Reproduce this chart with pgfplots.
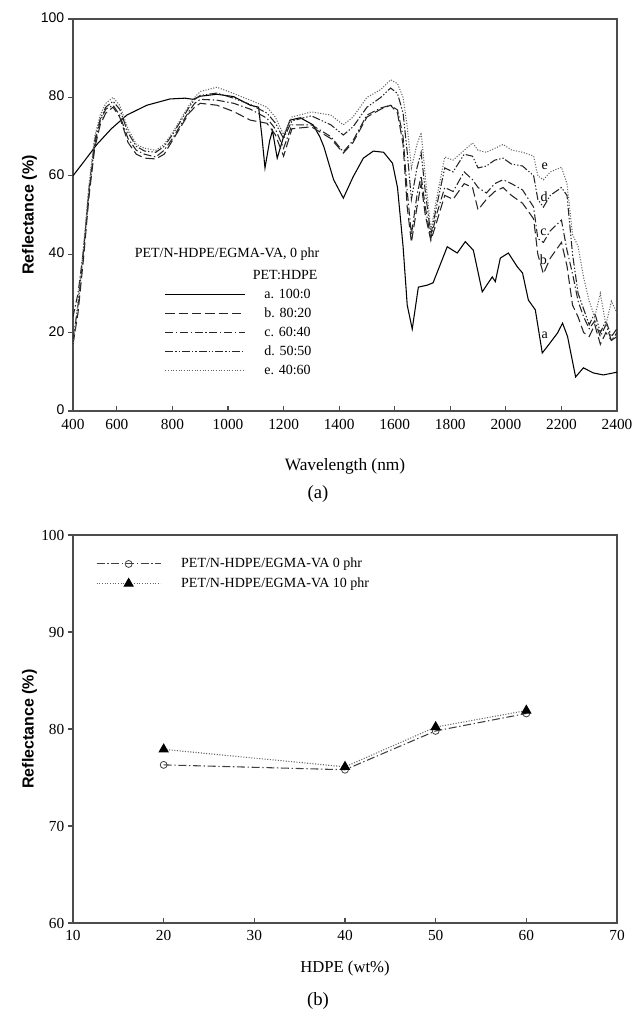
\documentclass[border=0pt]{standalone}
\usepackage{fontspec}
\setmainfont{Liberation Serif}
\newfontfamily\arialfont{Liberation Sans}
\usepackage{pgfplots}
\usepackage{pgfplotstable}
\pgfplotsset{compat=1.18}

% spectra b-e (PET:HDPE 80:20 ... 40:60)
\pgfplotstableread{
lam   b     c     d     e
442   17    24    18    16
460   25    30    27    28
480   39    41    41    42
500   55    56    57    58
520   67    68    69    70
540   73    74    74.5  75.5
560   76    77    77.5  78.5
586   77.5  78    79    80
610   75    75.5  77    78
640   68.5  69.5  71    72
670   65.5  66.5  67.5  68
700   64.5  65.5  66.3  67
740   64.3  64.8  66    66.5
770   65.5  66.5  67.5  68
800   69    69.5  70.5  71
830   72.5  73    74    74.5
860   76    76.5  77.5  78
880   77.5  78.5  79.5  80
900   78.5  79.5  80.5  81.5
960   78    79.3  81.1  82.6
1020  76.4  78.5  79.8  81
1080  74.2  77    78.2  79.3
1140  73.4  74.7  76    77.5
1170  70.5  72    73.5  75
1200  65    67    69.5  70.5
1230  72    73    74    75
1300  72.5  73    75.3  76.3
1370  69.5  70    73    75.5
1415  65.8  66.1  70.4  73
1450  68.5  69    72.5  75
1500  75    75.5  77.5  80
1550  77    77.3  80    82
1585  78    78    82.4  84.5
1610  76    76.8  81    83.5
1630  68    70    76    80
1645  52    56    66    72.5
1660  43    45    54    62
1680  52    55    62    68
1695  58    60    66    71
1710  50    52    56    60
1730  43.5  44    45    46
1750  48    50    52    54
1780  55    57    62    64.8
1810  54    56    61    64
1850  58    61    65.5  66.5
1880  57    59    65    68.4
1900  51.3  57    62    66.5
1930  54    55.6  62.5  66
1960  56    58    64    67
1990  57    59    64.5  68
2020  55    58    63    66.6
2060  53    56.4  62.5  66
2100  49    52    60    65
2115  40    44    54    60
2135  35    43    52    59
2160  39    46    55    61
2200  43    48.7  57    62.2
2220  37    41    55    58
2240  27    35    40    45
2260  24    28    30    42
2280  20    24    26    34
2300  19    21    22    28
2320  22    23    25    24
2340  17    19    20    30
2360  20    22    23    22
2380  18    18    19    28
2400  19    20    21    25
}\spectra

\begin{document}
\begin{tikzpicture}
\useasboundingbox (0,0) rectangle (475.5pt,760.5pt);

% (a) reflectance spectra
\begin{axis}[
    at={(54.75pt,452.25pt)}, anchor=south west,
    scale only axis, width=408pt, height=294pt,
    xmin=442, xmax=2400, ymin=0, ymax=100,
    xtick={442,600,800,1000,1200,1400,1600,1800,2000,2200,2400},
    xticklabels={400,600,800,1000,1200,1400,1600,1800,2000,2200,2400},
    ytick={0,20,...,100},
    xtick pos=bottom, ytick pos=left,
    tick align=inside,
    major tick length=4pt,
    ytick style={xshift=-4pt},
    /pgf/number format/assume math mode=true,
    x tick label style={font=\fontsize{11.5}{12}\selectfont, yshift=-2.5pt},
    y tick label style={font=\fontsize{10.5}{11}\arialfont, yshift=1pt, xshift=-3pt},
    axis line style={draw=black!70, line width=0.9pt},
    every tick/.style={black!70, line width=0.8pt},
    xlabel={Wavelength (nm)},
    xlabel style={font=\fontsize{13}{13}\selectfont, at={(axis description cs:0.5,-0.14)}, anchor=center},
    ylabel={Reflectance (\%)},
    ylabel style={font=\fontsize{12}{12}\arialfont\bfseries, at={(axis description cs:-0.08,0.5)}, anchor=center},
    legend style={at={(0.168,0.318)}, anchor=north west, draw=none, fill=none,
        font=\fontsize{10.5}{11}\selectfont, row sep=1.6pt, inner sep=0pt},
    legend cell align=left,
    legend image code/.code={\draw[#1] (0pt,0pt) -- (60pt,0pt); \path (72pt,0pt);},
]
\addplot[black, line width=0.8pt] coordinates {
(442,60) (480,63.5) (528,68) (580,72) (636,75.5) (708,78) (791,79.6) (845,79.8)
(875,79.5) (900,80.3) (960,80.8) (1020,80.2) (1080,78) (1110,77.5) (1122,70)
(1133,62) (1150,69) (1160,71.5) (1177,64.5) (1198,69.5) (1223,74.2) (1260,74.8)
(1306,73) (1330,70) (1345,67.4) (1380,59) (1415,54.3) (1450,59.7) (1487,64.5)
(1523,66.3) (1560,66) (1592,63.2) (1610,57) (1630,42) (1645,27) (1663,20.9)
(1685,31.6) (1717,32.1) (1738,32.7) (1789,41.9) (1825,40.3) (1854,43.2) (1883,41)
(1915,30.4) (1951,34.2) (1962,33) (1980,39) (2009,40.3) (2041,36.8) (2060,35.2)
(2081,28.3) (2106,25.8) (2131,14.8) (2153,16.8) (2186,19.9) (2204,22.4) (2222,19)
(2251,8.7) (2279,11) (2315,9.7) (2351,9.2) (2400,9.9)};
\addlegendentry{a. 100:0}
\addplot[black!85, line width=0.8pt, dash pattern=on 7pt off 3pt] table[x=lam, y=b] {\spectra};
\addlegendentry{b. 80:20}
\addplot[black!85, line width=0.8pt, dash pattern=on 6pt off 2pt on 1pt off 2pt] table[x=lam, y=c] {\spectra};
\addlegendentry{c. 60:40}
\addplot[black!85, line width=0.8pt, dash pattern=on 6pt off 1.5pt on 1pt off 1.5pt on 1pt off 1.5pt] table[x=lam, y=d] {\spectra};
\addlegendentry{d. 50:50}
\addplot[black!60, line width=0.8pt, dash pattern=on 0.8pt off 1.2pt] table[x=lam, y=e] {\spectra};
\addlegendentry{e. 40:60}

\node[anchor=west, font=\fontsize{10.5}{11}\selectfont] at (rel axis cs:0.105,0.40) {PET/N-HDPE/EGMA-VA, 0 phr};
\node[font=\fontsize{10.5}{11}\selectfont] at (rel axis cs:0.39,0.347) {PET:HDPE};
\node[font=\fontsize{10.5}{11}\selectfont] at (axis cs:2140,62.5) {e};
\node[font=\fontsize{10.5}{11}\selectfont] at (axis cs:2138,54.6) {d};
\node[font=\fontsize{10.5}{11}\selectfont] at (axis cs:2135,45.7) {c};
\node[font=\fontsize{10.5}{11}\selectfont] at (axis cs:2135,38.6) {b};
\node[font=\fontsize{10.5}{11}\selectfont] at (axis cs:2140,19.4) {a};
\end{axis}

% (b) reflectance vs HDPE content
\begin{axis}[
    at={(54.75pt,68.25pt)}, anchor=south west,
    scale only axis, width=408pt, height=291pt,
    xmin=10, xmax=70, ymin=60, ymax=100,
    xtick={10,20,...,70}, ytick={60,70,...,100},
    xtick pos=bottom, ytick pos=left,
    tick align=inside,
    major tick length=4pt,
    ytick style={xshift=-4pt},
    /pgf/number format/assume math mode=true,
    x tick label style={font=\fontsize{11.5}{12}\selectfont, yshift=-2pt},
    y tick label style={font=\fontsize{11.5}{12}\selectfont, xshift=-3pt},
    axis line style={draw=black!70, line width=0.9pt},
    every tick/.style={black!70, line width=0.8pt},
    xlabel={HDPE (wt\%)},
    xlabel style={font=\fontsize{12.5}{13}\selectfont, at={(axis description cs:0.5,-0.118)}, anchor=center},
    ylabel={Reflectance (\%)},
    ylabel style={font=\fontsize{12}{12}\arialfont\bfseries, at={(axis description cs:-0.08,0.5)}, anchor=center},
    legend style={at={(0.042,0.948)}, anchor=north west, draw=none, fill=none,
        font=\fontsize{10.5}{11}\selectfont, row sep=2pt, inner sep=0pt},
    legend cell align=left,
    legend image code/.code={\draw[mark repeat=2, mark phase=2, #1] plot coordinates {(0pt,0pt) (24pt,0pt) (48pt,0pt)}; \path (61pt,0pt);},
]
\addplot[black!75, line width=0.8pt, dash pattern=on 6pt off 2pt on 1pt off 2pt,
    mark=o, mark size=2.6pt, mark options={solid, line width=0.6pt}] coordinates {
(20,76.3) (40,75.8) (50,79.8) (60,81.6)};
\addlegendentry{PET/N-HDPE/EGMA-VA 0 phr}
\addplot[black!60, line width=0.8pt, dash pattern=on 0.8pt off 1.2pt,
    mark=triangle*, mark size=3.8pt, mark options={solid, black}] coordinates {
(20,77.9) (40,76.1) (50,80.2) (60,81.9)};
\addlegendentry{PET/N-HDPE/EGMA-VA 10 phr}
\end{axis}

\node[font=\fontsize{14}{14}\selectfont] at (238.5pt,390pt) {(a)};
\node[font=\fontsize{14}{14}\selectfont] at (238.5pt,10pt) {(b)};
\end{tikzpicture}
\end{document}
